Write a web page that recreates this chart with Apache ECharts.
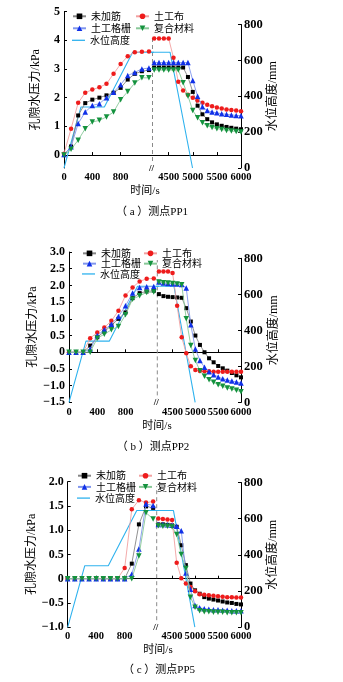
<!DOCTYPE html>
<html><head><meta charset="utf-8">
<script src="https://cdn.jsdelivr.net/npm/echarts@6/dist/echarts.min.js"></script>
<style>html,body{margin:0;padding:0;background:#fff}#c{width:343px;height:682px}</style>
</head><body><div id="c"></div>
<script>
// ---------------- DATA ----------------
const timeLeft  = [0,100,200,300,400,500,600,700,800,900,1000,1100,1200];
const timeRight = [4200,4300,4400,4500,4600,4700,4800,4900,5000,5100,5200,5300,5400,5500,5600,5700,5800,5900,6000];
const waterTime  = [0,240,570,970,4530,4995];
const waterLevel = [0,340,340,645,645,0];
const xTicksLeft  = [0,400,800];
const xTicksRight = [4500,5000,5500,6000];
const waterTicks  = [0,200,400,600,800];
const pp1Ticks = [0,1,2,3,4,5];
const pp2Ticks = [-1.5,-1,-0.5,0,0.5,1,1.5,2,2.5,3];
const pp5Ticks = [-1,-0.5,0,0.5,1,1.5,2];

// PP1
const pp1_none_L  = [0,0.3,1.38,1.81,1.93,2.0,2.08,2.17,2.34,2.63,2.83,2.92,2.96];
const pp1_cloth_L = [0.05,0.92,1.82,2.17,2.28,2.36,2.48,2.83,3.17,3.44,3.58,3.6,3.61];
const pp1_grid_L  = [0.02,0.29,1.1,1.5,1.73,1.79,2.0,2.19,2.45,2.77,2.88,3.0,3.03];
const pp1_comp_L  = [0,0.2,0.52,0.92,1.15,1.21,1.33,1.5,1.93,2.21,2.51,2.69,2.69];
const pp1_none_R  = [3.05,3.05,3.05,3.05,3.05,3.05,3.05,2.72,2.2,1.72,1.42,1.25,1.14,1.07,1.02,0.98,0.95,0.92,0.9];
const pp1_cloth_R = [4.06,4.06,4.06,4.06,3.39,2.55,2.25,2.1,2.0,1.9,1.82,1.75,1.7,1.66,1.62,1.59,1.57,1.55,1.53];
const pp1_grid_R  = [3.22,3.22,3.22,3.22,3.22,3.22,3.22,3.22,2.6,2.05,1.68,1.55,1.5,1.47,1.44,1.42,1.4,1.38,1.37];
const pp1_comp_R  = [2.96,2.96,2.96,2.96,2.96,2.96,2.52,2.06,1.55,1.3,1.13,1.02,0.96,0.92,0.89,0.86,0.84,0.82,0.8];
// PP2
const pp2_none_L  = [0,0,0,0.2,0.45,0.62,0.8,1.0,1.19,1.62,1.77,1.82,1.84];
const pp2_cloth_L = [0,0,0,0.42,0.59,0.74,0.94,1.24,1.7,1.94,2.12,2.2,2.21];
const pp2_grid_L  = [0,0,0,0.1,0.5,0.67,0.84,1.07,1.39,1.77,1.94,1.96,1.97];
const pp2_comp_L  = [0,0,0,0,0.42,0.54,0.67,0.77,1.12,1.59,1.69,1.79,1.8];
const pp2_none_R  = [1.74,1.68,1.66,1.65,1.64,1.63,1.32,0.92,0.5,0.22,0.0,-0.18,-0.3,-0.41,-0.48,-0.55,-0.62,-0.69,-0.75];
const pp2_cloth_R = [2.42,2.42,2.42,2.37,1.39,0.45,-0.03,-0.42,-0.53,-0.56,-0.57,-0.57,-0.58,-0.58,-0.58,-0.58,-0.58,-0.58,-0.58];
const pp2_grid_R  = [2.1,2.07,2.06,2.05,2.04,2.03,1.92,0.82,0.1,-0.25,-0.45,-0.58,-0.67,-0.74,-0.79,-0.83,-0.86,-0.89,-0.92];
const pp2_comp_R  = [2.1,2.08,2.07,2.06,2.04,2.02,1.0,0.2,-0.25,-0.55,-0.72,-0.82,-0.9,-0.97,-1.02,-1.07,-1.1,-1.14,-1.18];
// PP5
const pp5_none_L  = [0,0,0,0,0,0,0,0,0,0.31,1.12,1.49,1.46];
const pp5_cloth_L = [0,0,0,0,0,0,0,0,0.22,1.43,1.62,1.57,1.59];
const pp5_grid_L  = [0,0,0,0,0,0,0,0,0,0.09,0.61,1.54,1.51];
const pp5_comp_L  = [0,0,0,0,0,0,0,0,0,0,0.47,1.36,1.23];
const pp5_none_R  = [1.12,1.12,1.11,1.1,1.07,0.69,0.28,-0.1,-0.24,-0.31,-0.38,-0.41,-0.43,-0.45,-0.47,-0.49,-0.5,-0.52,-0.53];
const pp5_cloth_R = [1.24,1.23,1.22,1.21,0.33,0.01,-0.1,-0.17,-0.26,-0.32,-0.33,-0.34,-0.35,-0.36,-0.37,-0.38,-0.38,-0.39,-0.39];
const pp5_grid_R  = [1.12,1.12,1.11,1.1,1.08,0.99,0.12,-0.22,-0.55,-0.6,-0.62,-0.63,-0.64,-0.64,-0.65,-0.65,-0.66,-0.66,-0.66];
const pp5_comp_R  = [1.09,1.08,1.08,1.07,0.91,0.5,0.21,-0.38,-0.59,-0.66,-0.68,-0.68,-0.69,-0.69,-0.69,-0.7,-0.7,-0.7,-0.7];

const materialNames = ['未加筋','土工布','土工格栅','复合材料'];
const waterName = '水位高度';
const captions = ['（ a ）测点PP1','（ b ）测点PP2','（ c ）测点PP5'];

// ---------------- STYLE / LAYOUT ----------------
const STY = [
  {symbol:'rect', size:4, color:'#000000', line:'#858585', rot:0},
  {symbol:'circle', size:4.5, color:'#ee1c1c', line:'#f2a0a0', rot:0},
  {symbol:'triangle', size:5.5, color:'#1030e8', line:'#8096ee', rot:0},
  {symbol:'triangle', size:5.5, color:'#14923e', line:'#88c898', rot:180}
];
const WATER_COLOR = '#2fb2ee';
const NUM_FONT = '"Liberation Serif"';
const MIX_FONT = '"Liberation Serif","Noto Sans CJK SC"';
const CJK_FONT = '"Noto Sans CJK SC"';

const PANELS = [
  {xl:64, xb:152.5, xr:241, topL:11.5, topR:24.5, bottom:168, pMin:-0.45, pMax:5, ticks:pp1Ticks, dec:0,
   breakMin:4165, leftMax:1250, dashTop:37, legTop:10.3, legPitch:12, legL:72, legR:135,
   xNameX:145, xNameY:191, capX:152, capY:212.5, lGap:22, rGap:25,
   L:[pp1_none_L,pp1_cloth_L,pp1_grid_L,pp1_comp_L], R:[pp1_none_R,pp1_cloth_R,pp1_grid_R,pp1_comp_R]},
  {xl:69, xb:157.3, xr:241, topL:252, topR:258.3, bottom:402.4, pMin:-1.5, pMax:3, ticks:pp2Ticks, dec:1,
   breakMin:4165, leftMax:1250, dashTop:260, legTop:248.2, legPitch:10.3, legL:82, legR:143,
   xNameX:157, xNameY:426, capX:153, capY:447.5, lGap:30, rGap:27,
   L:[pp2_none_L,pp2_cloth_L,pp2_grid_L,pp2_comp_L], R:[pp2_none_R,pp2_cloth_R,pp2_grid_R,pp2_comp_R]},
  {xl:67.7, xb:156.7, xr:241, topL:481.7, topR:482.5, bottom:627.2, pMin:-1, pMax:2, ticks:pp5Ticks, dec:1,
   breakMin:4165, leftMax:1250, dashTop:486, legTop:470.1, legPitch:11.2, legL:77, legR:138,
   xNameX:158, xNameY:650, capX:159, capY:670, lGap:30, rGap:26,
   L:[pp5_none_L,pp5_cloth_L,pp5_grid_L,pp5_comp_L], R:[pp5_none_R,pp5_cloth_R,pp5_grid_R,pp5_comp_R]}
];

function fmtP(dec){
  return function(v){
    let s = (Math.abs(v) < 1e-9) ? '0' : (dec ? v.toFixed(1) : String(v));
    return s.replace('-', '\u2212');
  };
}
function zip(xs, ys){ return xs.map((x,i)=>[x, ys[i]]); }

const axisLineStyle = {show:true, lineStyle:{color:'#000', width:1}};
const option = {animation:false, backgroundColor:'#fff', grid:[], xAxis:[], yAxis:[], series:[], legend:[], graphic:[]};

PANELS.forEach((P, pi) => {
  const gi = option.grid.length;
  const hL = P.bottom - P.topL, hR = P.bottom - P.topR;
  option.grid.push({left:P.xl, top:P.topL, width:P.xb - P.xl, height:hL});
  option.grid.push({left:P.xb, top:P.topR, width:P.xr - P.xb, height:hR});

  const xi = option.xAxis.length;
  const xLab = {fontFamily:NUM_FONT, fontWeight:'bold', fontSize:10.5, color:'#000', margin:4,
    formatter:(v)=>String(v), hideOverlap:false, showMinLabel:true, showMaxLabel:true};
  option.xAxis.push({gridIndex:gi, type:'value', min:0, max:P.leftMax,
    axisLine:axisLineStyle, splitLine:{show:false},
    axisTick:{inside:true, length:3, customValues:xTicksLeft, lineStyle:{color:'#000'}},
    axisLabel:Object.assign({customValues:xTicksLeft}, xLab)});
  option.xAxis.push({gridIndex:gi+1, type:'value', min:P.breakMin, max:6000,
    axisLine:axisLineStyle, splitLine:{show:false},
    axisTick:{inside:true, length:3, customValues:xTicksRight, lineStyle:{color:'#000'}},
    axisLabel:Object.assign({customValues:xTicksRight}, xLab)});

  const yi = option.yAxis.length;
  option.yAxis.push({gridIndex:gi, type:'value', min:P.pMin, max:P.pMax,
    axisLine:axisLineStyle, splitLine:{show:false},
    axisTick:{inside:true, length:3, customValues:P.ticks, lineStyle:{color:'#000'}},
    axisLabel:{customValues:P.ticks, formatter:fmtP(P.dec), fontFamily:NUM_FONT, fontWeight:'bold', fontSize:12, color:'#000', margin:4, hideOverlap:false},
    name:'孔隙水压力/kPa', nameLocation:'middle', nameRotate:90, nameGap:P.lGap,
    nameTextStyle:{fontFamily:MIX_FONT, fontSize:12, color:'#000'}});
  option.yAxis.push({gridIndex:gi+1, type:'value', show:false, min:P.pMin, max:P.pMin + (P.pMax - P.pMin) * hR / hL, splitLine:{show:false}});
  option.yAxis.push({gridIndex:gi+1, type:'value', position:'right', min:0, max:800,
    axisLine:axisLineStyle, splitLine:{show:false},
    axisTick:{inside:true, length:3, customValues:waterTicks, lineStyle:{color:'#000'}},
    axisLabel:{customValues:waterTicks, formatter:(v)=>String(v), fontFamily:NUM_FONT, fontWeight:'bold', fontSize:12.5, color:'#000', margin:3, hideOverlap:false},
    name:'水位高度/mm', nameLocation:'middle', nameRotate:90, nameGap:P.rGap,
    nameTextStyle:{fontFamily:MIX_FONT, fontSize:12, color:'#000'}});
  option.yAxis.push({gridIndex:gi, type:'value', show:false, min:0, max:800 * hL / hR, splitLine:{show:false}});

  materialNames.forEach((nm, mi) => {
    const s = STY[mi];
    const base = {type:'line', name:nm, symbol:s.symbol, symbolSize:s.size, symbolRotate:s.rot,
      showSymbol:true, itemStyle:{color:s.color}, lineStyle:{color:s.line, width:0.9}, z:3 + mi};
    option.series.push(Object.assign({}, base, {xAxisIndex:xi, yAxisIndex:yi, data:zip(timeLeft, P.L[mi])}));
    option.series.push(Object.assign({}, base, {xAxisIndex:xi+1, yAxisIndex:yi+1, data:zip(timeRight, P.R[mi])}));
  });
  const wbase = {type:'line', name:waterName, symbol:'none', showSymbol:false, itemStyle:{color:WATER_COLOR},
    lineStyle:{color:WATER_COLOR, width:1.1}, z:2};
  option.series.push(Object.assign({}, wbase, {xAxisIndex:xi, yAxisIndex:yi+3, data:zip(waterTime, waterLevel)}));
  option.series.push(Object.assign({}, wbase, {xAxisIndex:xi+1, yAxisIndex:yi+2, data:zip(waterTime, waterLevel)}));

  const legText = {fontFamily:CJK_FONT, fontSize:10, color:'#000', lineHeight:P.legPitch};
  option.legend.push({orient:'vertical', left:P.legL, top:P.legTop, padding:0, itemGap:0, itemWidth:13, itemHeight:7,
    textStyle:legText, data:[materialNames[0], materialNames[2]]});
  option.legend.push({orient:'vertical', left:P.legR, top:P.legTop, padding:0, itemGap:0, itemWidth:13, itemHeight:7,
    textStyle:legText, data:[materialNames[1], materialNames[3]]});
  option.legend.push({orient:'vertical', left:P.legL, top:P.legTop + 2 * P.legPitch, padding:0, itemGap:0, itemWidth:13, itemHeight:1.3,
    icon:'rect', textStyle:legText, data:[waterName]});

  option.graphic.push({type:'line', silent:true, z:1,
    shape:{x1:P.xb, y1:P.bottom, x2:P.xb, y2:P.dashTop},
    style:{stroke:'#8a8a8a', lineWidth:1, lineDash:[4,3]}});
  option.graphic.push({type:'text', silent:true, z:10, x:P.xb - 1, y:P.bottom + 0.5,
    style:{text:'//', fontSize:9, fontWeight:'bold', fontFamily:NUM_FONT, fill:'#000', align:'center', verticalAlign:'middle', backgroundColor:'#fff'}});
  option.graphic.push({type:'text', silent:true, x:P.xNameX, y:P.xNameY,
    style:{text:'时间/s', fontSize:11, fontFamily:MIX_FONT, fill:'#000', align:'center', verticalAlign:'middle'}});
  option.graphic.push({type:'text', silent:true, x:P.capX, y:P.capY,
    style:{text:captions[pi], fontSize:11, fontFamily:MIX_FONT, fill:'#000', align:'center', verticalAlign:'middle'}});
});

const chart = echarts.init(document.getElementById('c'), null, {renderer:'canvas'});
chart.setOption(option);
</script></body></html>
